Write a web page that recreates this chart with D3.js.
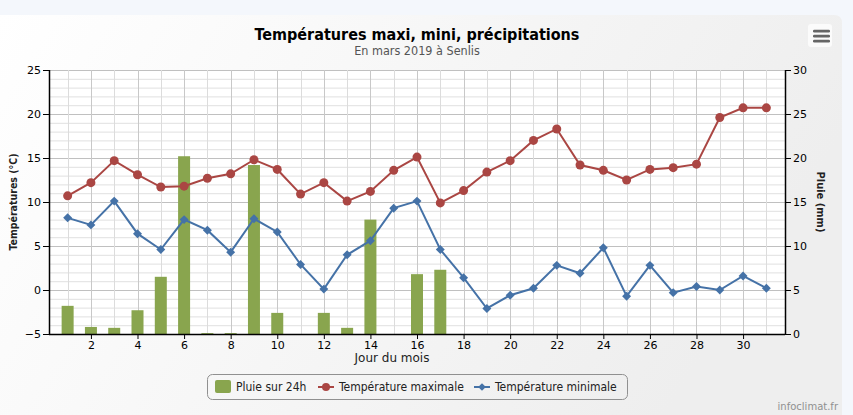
<!DOCTYPE html>
<html>
<head>
<meta charset="utf-8">
<script src="https://cdn.jsdelivr.net/npm/d3@7"></script>
<style>
html,body{margin:0;padding:0;background:#f4f7fc;}
svg{display:block;}
</style>
</head>
<body>
<svg id="chart" width="853" height="415"></svg>
<script>
const days = d3.range(1, 32);
const tempMax = [10.7,12.2,14.7,13.1,11.7,11.8,12.7,13.2,14.8,13.7,10.9,12.2,10.1,11.2,13.6,15.1,9.9,11.3,13.4,14.7,17.0,18.3,14.2,13.6,12.5,13.7,13.9,14.3,19.6,20.7,20.7];
const tempMin = [8.2,7.4,10.1,6.4,4.6,8.0,6.8,4.3,8.1,6.6,2.9,0.1,4.0,5.6,9.3,10.1,4.6,1.4,-2.1,-0.6,0.2,2.8,1.9,4.8,-0.7,2.8,-0.3,0.4,0.0,1.6,0.2];
const rain = [3.2,0.8,0.7,2.7,6.5,20.2,0.1,0.1,19.2,2.4,0,2.4,0.7,13.0,0,6.8,7.3,0,0,0,0,0,0,0,0,0,0,0,0,0,0];
const xTicks = [2,4,6,8,10,12,14,16,18,20,22,24,26,28,30];
const tempTicks = [-5,0,5,10,15,20,25];
const rainTicks = [0,5,10,15,20,25,30];
const legendLabels = ["Pluie sur 24h","Température maximale","Température minimale"];

const colRain = "#89A54E", colMax = "#AA4643", colMin = "#4572A7";
const svg = d3.select("#chart");
const font = "'DejaVu Sans', Verdana, sans-serif";
const fontC = "'DejaVu Sans Condensed','DejaVu Sans',sans-serif";

// backgrounds
const defs = svg.append("defs");
const g1 = defs.append("linearGradient").attr("id","bg").attr("x1","0").attr("y1","0").attr("x2","1").attr("y2","0.3");
g1.append("stop").attr("offset","0").attr("stop-color","#ffffff");
g1.append("stop").attr("offset","1").attr("stop-color","#eeeeee");
svg.append("rect").attr("x",0).attr("y",0).attr("width",853).attr("height",415).attr("fill","#f4f7fc");
svg.append("path").attr("d","M0,15 H834 Q842,15 842,23 V415 H0 Z").attr("fill","url(#bg)");

const L = 49, R = 785, T = 70, B = 334;
const x = d3.scaleLinear().domain([0.2, 31.8]).range([L, R]);
const yT = d3.scaleLinear().domain([-5, 25]).range([B, T]);
const yR = d3.scaleLinear().domain([0, 30]).range([B, T]);

svg.append("rect").attr("x",L).attr("y",T).attr("width",R-L).attr("height",B-T).attr("fill","#ffffff");

// grid
const grid = svg.append("g");
d3.range(-5, 26).forEach(v => {
  grid.append("line").attr("x1",L).attr("x2",R).attr("y1",yT(v)+0.5).attr("y2",yT(v)+0.5)
    .attr("stroke", v % 5 === 0 ? "#c0c0c0" : "#e0e0e0").attr("stroke-width",1);
});
days.forEach(d => {
  grid.append("line").attr("x1",Math.round(x(d))+0.5).attr("x2",Math.round(x(d))+0.5).attr("y1",T).attr("y2",B)
    .attr("stroke", d % 2 === 0 ? "#c8c8c8" : "#dcdcdc").attr("stroke-width",1);
});

// bars
svg.append("g").selectAll("rect").data(days).join("rect")
  .attr("x", d => x(d) - 6).attr("width", 12)
  .attr("y", (d,i) => yR(rain[i])).attr("height", (d,i) => B - yR(rain[i]))
  .attr("fill", colRain);

// lines
const line = d3.line().x((d,i)=>x(days[i])).y(d=>yT(d));
svg.append("path").datum(tempMax).attr("d", line).attr("fill","none").attr("stroke",colMax).attr("stroke-width",2);
svg.append("path").datum(tempMin).attr("d", line).attr("fill","none").attr("stroke",colMin).attr("stroke-width",2);
svg.append("g").selectAll("circle").data(tempMax).join("circle")
  .attr("cx",(d,i)=>x(days[i])).attr("cy",d=>yT(d)).attr("r",4.5).attr("fill",colMax);
svg.append("g").selectAll("path").data(tempMin).join("path")
  .attr("d", d3.symbol().type(d3.symbolSquare).size(40))
  .attr("transform",(d,i)=>`translate(${x(days[i])},${yT(d)}) rotate(45)`)
  .attr("fill",colMin);

// axes
const axL = svg.append("g").attr("transform",`translate(${L},0)`)
  .call(d3.axisLeft(yT).tickValues(tempTicks).tickSize(6).tickPadding(2).tickFormat(d3.format("d")));
const axR = svg.append("g").attr("transform",`translate(${R},0)`)
  .call(d3.axisRight(yR).tickValues(rainTicks).tickSize(6).tickPadding(2).tickFormat(d3.format("d")));
const axB = svg.append("g").attr("transform",`translate(0,${B})`)
  .call(d3.axisBottom(x).tickValues(xTicks).tickSize(5).tickPadding(2).tickFormat(d3.format("d")));
[axL, axR, axB].forEach(a => {
  a.select(".domain").attr("stroke","#000").attr("stroke-width",1.5);
  a.selectAll(".tick line").attr("stroke","#000");
  a.selectAll("text").attr("font-family",font).attr("font-size","11px").attr("fill","#000");
});
axL.select(".domain").attr("d",`M0.5,${T}V${B}`);
axR.select(".domain").attr("d",`M0.5,${T}V${B}`);
axB.select(".domain").attr("d",`M${L},0.5H${R}`);

// titles
svg.append("text").attr("x",417).attr("y",40).attr("text-anchor","middle")
  .attr("font-family",fontC).attr("font-weight","bold").attr("font-size","16px").attr("fill","#000")
  .text("Températures maxi, mini, précipitations");
svg.append("text").attr("x",417).attr("y",55).attr("text-anchor","middle")
  .attr("font-family",fontC).attr("font-size","12.5px").attr("fill","#555")
  .text("En mars 2019 à Senlis");
svg.append("text").attr("transform","translate(17,202) rotate(-90)").attr("text-anchor","middle")
  .attr("font-family",fontC).attr("font-weight","bold").attr("font-size","10.5px").attr("fill","#222")
  .text("Températures (°C)");
svg.append("text").attr("transform","translate(817,202) rotate(90)").attr("text-anchor","middle")
  .attr("font-family",fontC).attr("font-weight","bold").attr("font-size","11px").attr("fill","#222")
  .text("Pluie (mm)");
svg.append("text").attr("x",392).attr("y",362).attr("text-anchor","middle")
  .attr("font-family",font).attr("font-size","12px").attr("fill","#222")
  .text("Jour du mois");

// legend
const lg = svg.append("g");
lg.append("rect").attr("x",207.5).attr("y",374.5).attr("width",420).attr("height",25).attr("rx",5)
  .attr("fill","none").attr("stroke","#909090");
lg.append("rect").attr("x",215).attr("y",380).attr("width",16).attr("height",13).attr("rx",2).attr("fill",colRain);
lg.append("text").attr("x",236).attr("y",391).attr("font-family",fontC).attr("font-size","12px").attr("fill","#222").text(legendLabels[0]);
lg.append("line").attr("x1",318).attr("x2",334).attr("y1",387).attr("y2",387).attr("stroke",colMax).attr("stroke-width",2);
lg.append("circle").attr("cx",326).attr("cy",387).attr("r",4).attr("fill",colMax);
lg.append("text").attr("x",339).attr("y",391).attr("font-family",fontC).attr("font-size","12px").attr("fill","#222").text(legendLabels[1]);
lg.append("line").attr("x1",474).attr("x2",490).attr("y1",387).attr("y2",387).attr("stroke",colMin).attr("stroke-width",2);
lg.append("path").attr("d",d3.symbol().type(d3.symbolSquare).size(30)).attr("transform","translate(482,387) rotate(45)").attr("fill",colMin);
lg.append("text").attr("x",495).attr("y",391).attr("font-family",fontC).attr("font-size","12px").attr("fill","#222").text(legendLabels[2]);

// menu button
svg.append("rect").attr("x",808).attr("y",24).attr("width",24).attr("height",23).attr("rx",3).attr("fill","#fbfbfb");
[31,36,41].forEach(yy => svg.append("rect").attr("x",813).attr("y",yy-1.25).attr("width",17).attr("height",2.8).attr("rx",1.2).attr("fill","#666"));

// credit
svg.append("text").attr("x",838).attr("y",410).attr("text-anchor","end")
  .attr("font-family",font).attr("font-size","10px").attr("fill","#909090").text("infoclimat.fr");
</script>
</body>
</html>
